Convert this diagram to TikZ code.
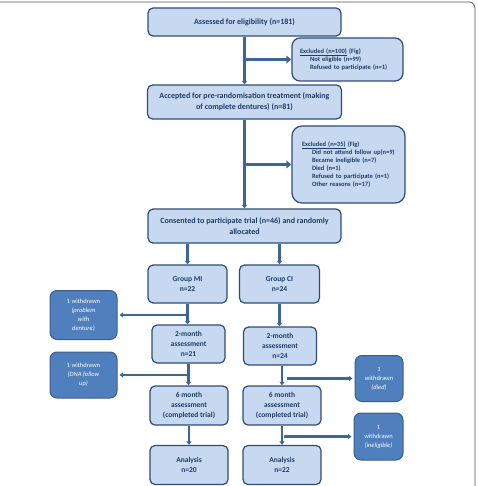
\documentclass[tikz,border=0pt]{standalone}
\usepackage{fontspec}
\setmainfont{Carlito}
\usetikzlibrary{arrows.meta}
\definecolor{boxfill}{HTML}{C6D9F1}
\definecolor{boxline}{HTML}{2F4B75}
\definecolor{txt}{HTML}{1F3B66}
\definecolor{conn}{HTML}{3F6597}
\definecolor{wfill}{HTML}{4F7FBC}
\definecolor{wline}{HTML}{3A5E8C}
\definecolor{framecol}{HTML}{555555}
\newcommand{\ulnodepth}[1]{\underline{\raisebox{0pt}[\height][0pt]{#1}}}
\tikzset{
  mainbox/.style={draw=boxline, fill=boxfill, line width=1.2pt, rounded corners=5pt,
    text=txt, font=\bfseries\fontsize{8}{11}\selectfont, align=center, inner sep=0pt},
  exclbox/.style={draw=boxline, fill=boxfill, line width=1.2pt, rounded corners=8pt,
    text=txt, font=\bfseries\fontsize{6.5}{8}\selectfont, align=left, inner ysep=0pt},
  groupbox/.style={draw=boxline, fill=boxfill, line width=1.2pt, rounded corners=5pt,
    text=txt, font=\bfseries\fontsize{7.5}{10}\selectfont, align=center, inner sep=0pt},
  wbox/.style={draw=wline, fill=wfill, line width=1pt, rounded corners=7pt,
    text=white, font=\fontsize{6.5}{9}\selectfont, align=center, inner sep=0pt},
  conn/.style={draw=conn, line width=2.2pt, -{Triangle[length=3.5pt,width=5pt]}},
  bigconn/.style={draw=conn, line width=2.4pt, -{Triangle[length=5pt,width=7.5pt]}},
}
\begin{document}
\begin{tikzpicture}[x=1pt,y=-1pt]
\useasboundingbox (0,0) rectangle (477,486);
\draw[framecol, line width=0.8pt, rounded corners=6pt] (0,2) -- (475,2) -- (475,487);

% main column
\node[mainbox, minimum width=193, minimum height=28] (b1) at (244.5,22) {Assessed for eligibility (n=181)};
\node[mainbox, minimum width=194, minimum height=34] (b2) at (244.5,102) {Accepted for pre-randomisation treatment (making\\of complete dentures) (n=81)};
\node[mainbox, minimum width=193, minimum height=34] (b3) at (244.5,226) {Consented to participate trial (n=46) and randomly\\allocated};

\node[exclbox, text width=95pt, inner xsep=8pt, minimum height=43] (e1) at (347.5,59.5)
  {\ulnodepth{Excluded (n=100)} (Fig)\\
   \hspace*{10pt}Not eligible (n=99)\\
   \hspace*{10pt}Refused to participate (n=1)};
\node[exclbox, text width=93pt, inner xsep=10pt, minimum height=77, rounded corners=10pt] (e2) at (348.5,164.5)
  {\ulnodepth{Excluded (n=35)} (Fig)\\
   \hspace*{10pt}Did not attend follow up(n=9)\\
   \hspace*{10pt}Became ineligible (n=7)\\
   \hspace*{10pt}Died (n=1)\\
   \hspace*{10pt}Refused to participate (n=1)\\
   \hspace*{10pt}Other reasons (n=17)\\[6pt]};

% groups
\node[groupbox, minimum width=79, minimum height=38] (mi) at (187.5,284) {Group MI\\n=22};
\node[groupbox, minimum width=80, minimum height=38] (ci) at (279.5,284) {Group CI\\n=24};
\node[groupbox, minimum width=73, minimum height=38] (m2) at (188.5,344) {2-month\\assessment\\n=21};
\node[groupbox, minimum width=73, minimum height=38] (c2) at (280,346) {2-month\\assessment\\n=24};
\node[groupbox, minimum width=78, minimum height=39] (m6) at (189,405.5) {6 month\\assessment\\(completed trial)};
\node[groupbox, minimum width=78, minimum height=39] (c6) at (282,405.5) {6 month\\assessment\\(completed trial)};
\node[groupbox, minimum width=78, minimum height=39] (ma) at (189,465) {Analysis\\n=20};
\node[groupbox, minimum width=78, minimum height=39] (ca) at (282,465) {Analysis\\n=22};

% withdrawn
\node[wbox, minimum width=67, minimum height=49] (w1) at (83.5,315) {1 withdrawn\\\textit{(problem}\\\textit{with}\\\textit{denture)}};
\node[wbox, minimum width=67, minimum height=46] (w2) at (83.5,375) {1 withdrawn\\\textit{(DNA follow}\\\textit{up)}};
\node[wbox, minimum width=48, minimum height=46] (w3) at (379,378.5) {1\\withdrawn\\\textit{(died)}};
\node[wbox, minimum width=49, minimum height=47] (w4) at (378.5,436.5) {1\\withdrawn\\\textit{(ineligible)}};

% connectors
\draw[conn] (b1.south) -- (b2.north);
\draw[conn] (b2.south) -- (b3.north);
\draw[bigconn] (b1.south |- e1.west) -- (e1.west);
\draw[bigconn] (b2.south |- e2.west) -- (e2.west);
\draw[conn] (mi.north |- b3.south) -- (mi.north);
\draw[conn] (ci.north |- b3.south) -- (ci.north);
\draw[conn] (mi.south) -- (mi.south |- m2.north);
\draw[conn] (m2.south) -- (m2.south |- m6.north);
\draw[conn] (m6.south) -- (ma.north);
\draw[conn] (ci.south) -- (ci.south |- c2.north);
\draw[conn] (c6.north |- c2.south) -- (c6.north);
\draw[conn] (c6.south) -- (ca.north);
\draw[conn, shorten >=2pt] (mi.south |- w1.east) -- (w1.east);
\draw[conn, shorten >=2pt] (m2.south |- w2.east) -- (w2.east);
\draw[conn, shorten <=5pt, shorten >=2pt] (c6.north |- w3.west) -- (w3.west);
\draw[conn, shorten <=2pt, shorten >=2pt] (c6.south |- w4.west) -- (w4.west);
\end{tikzpicture}
\end{document}
